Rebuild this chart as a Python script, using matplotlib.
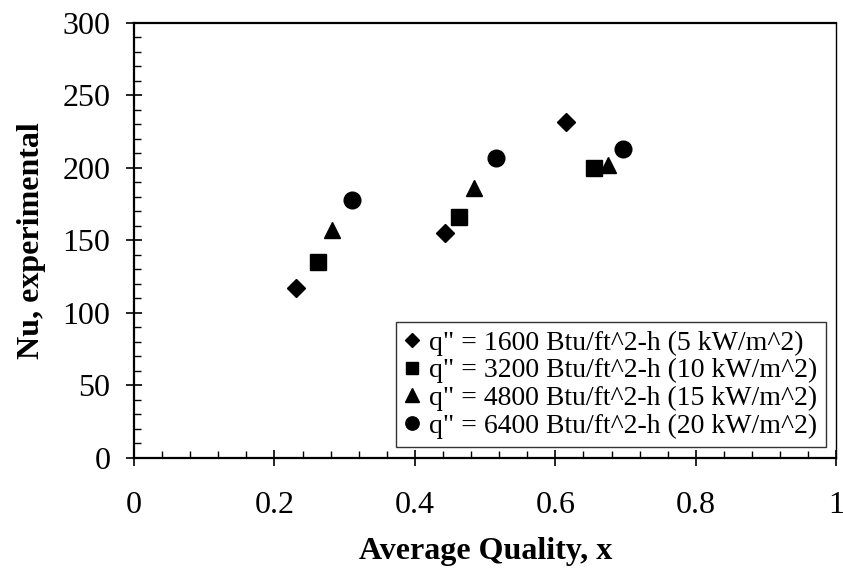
import matplotlib
matplotlib.use("Agg")
from matplotlib import pyplot as plt
from matplotlib.ticker import MultipleLocator

plt.rcParams['font.family'] = ['Liberation Serif', 'DejaVu Serif']

# average quality vs experimental Nusselt number, one list per heat flux
x_1600 = [0.230, 0.443, 0.615]
nu_1600 = [117, 155, 232]
x_3200 = [0.262, 0.463, 0.655]
nu_3200 = [135, 166, 200]
x_4800 = [0.282, 0.484, 0.675]
nu_4800 = [157, 186, 202]
x_6400 = [0.311, 0.515, 0.696]
nu_6400 = [178, 207, 213]

labels = ['q" = 1600 Btu/ft^2-h (5 kW/m^2)',
          'q" = 3200 Btu/ft^2-h (10 kW/m^2)',
          'q" = 4800 Btu/ft^2-h (15 kW/m^2)',
          'q" = 6400 Btu/ft^2-h (20 kW/m^2)']
xtick_labels = ['0', '0.2', '0.4', '0.6', '0.8', '1']

fig = plt.figure(figsize=(8.43, 5.73), dpi=100)
ax = fig.add_axes([0.159, 0.2007, 0.833, 0.7593])

ax.plot(x_1600, nu_1600, 'D', color='black', ms=9.5, ls='none', label=labels[0])
ax.plot(x_3200, nu_3200, 's', color='black', ms=11.5, ls='none', label=labels[1])
ax.plot(x_4800, nu_4800, '^', color='black', ms=12, ls='none', label=labels[2])
ax.plot(x_6400, nu_6400, 'o', color='black', ms=12, ls='none', label=labels[3])

ax.set_xlim(0, 1)
ax.set_ylim(0, 300)
ax.xaxis.set_minor_locator(MultipleLocator(0.04))
ax.yaxis.set_major_locator(MultipleLocator(50))
ax.yaxis.set_minor_locator(MultipleLocator(10))
ax.set_xticks([0, 0.2, 0.4, 0.6, 0.8, 1])
ax.set_xticklabels(xtick_labels)

ax.tick_params(which='major', direction='inout', length=12, width=1.2,
               labelsize=23, top=False, right=False)
ax.tick_params(axis='x', which='major', pad=18)
ax.tick_params(axis='y', which='major', pad=11)
ax.tick_params(which='minor', direction='in', length=5, width=1,
               top=False, right=False)

for s in ax.spines.values():
    s.set_linewidth(1.6)
ax.spines['right'].set_linewidth(1.0)

ax.set_xlabel('Average Quality, x', fontsize=23, fontweight='bold', labelpad=12)
ax.set_ylabel('Nu, experimental', fontsize=23, fontweight='bold', labelpad=12)

leg = ax.legend(loc='lower right', bbox_to_anchor=(0.985, 0.025), fontsize=20,
                frameon=True, fancybox=False, edgecolor='black',
                handlelength=0.6, handletextpad=0.3, borderpad=0.3,
                labelspacing=0.08, markerscale=0.8, borderaxespad=0)
leg.get_frame().set_linewidth(1.0)

fig.savefig('out.png', dpi=100)
